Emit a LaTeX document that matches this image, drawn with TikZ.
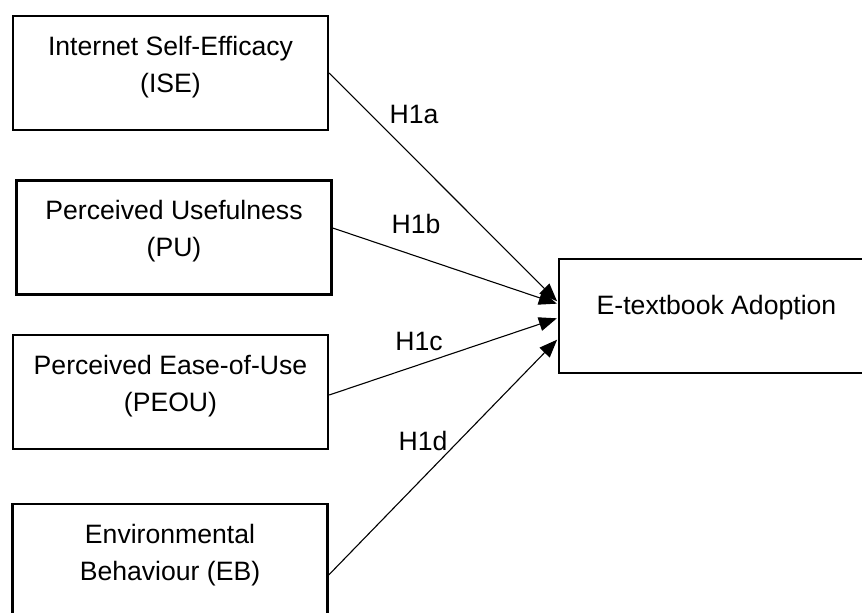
\documentclass[tikz,border=0pt]{standalone}
\usepackage{fontspec}
\setmainfont{Liberation Sans}
\usetikzlibrary{arrows.meta, positioning}

\begin{document}
\begin{tikzpicture}[
    x=0.5pt, y=-0.5pt,
    factor/.style={
      draw, line width=1.2pt,
      minimum width=157.5pt, minimum height=57pt
    },
    factortext/.style={align=center, inner sep=0pt, font=\fontsize{13.3}{18.5}\selectfont},
    hyp/.style={inner sep=0pt, font=\fontsize{13.3}{16}\selectfont},
    link/.style={-{Triangle[length=9pt, width=7pt]}, line width=0.55pt, shorten >=0.5pt}
  ]
    \clip (0,0) rectangle (862,613);

    % boxes
    \node[factor] (ise)   at (170.5,73)  {};
    \node[factor] (pu)    at (174,237.5) {};
    \node[factor] (peou)  at (170.5,392) {};
    \node[factor] (eb)    at (170,561)   {};
    \node[factor] (adopt) at (716.5,316) {};

    % texts
    \node[factortext] (isetxt)   at (170.5,67)  {Internet Self-Efficacy\\(ISE)};
    \node[factortext] (putxt)    at (174,231.5) {Perceived Usefulness\\(PU)};
    \node[factortext] (peoutxt)  at (170.5,386.5) {Perceived Ease-of-Use\\(PEOU)};
    \node[factortext] (ebtxt)    at (170,555.5) {Environmental\\Behaviour (EB)};
    \node[factortext] (adopttxt) at (716.5,307.5) {E-textbook Adoption};

    % hypotheses
    \draw[link] (ise.east) -- ([yshift=7pt]adopt.west);
    \draw[link] ([yshift=4.75pt]pu.east) -- ([yshift=6pt]adopt.west);
    \draw[link] ([yshift=-1.5pt]peou.east) -- ([yshift=-1pt]adopt.west);
    \draw[link] ([yshift=-7pt]eb.east) -- ([yshift=-11.5pt]adopt.west);

    \node[hyp] (h1a) at (414,114) {H1a};
    \node[hyp] (h1b) at (416,224) {H1b};
    \node[hyp] (h1c) at (419,341) {H1c};
    \node[hyp] (h1d) at (423,441) {H1d};
  \end{tikzpicture}
\end{document}
